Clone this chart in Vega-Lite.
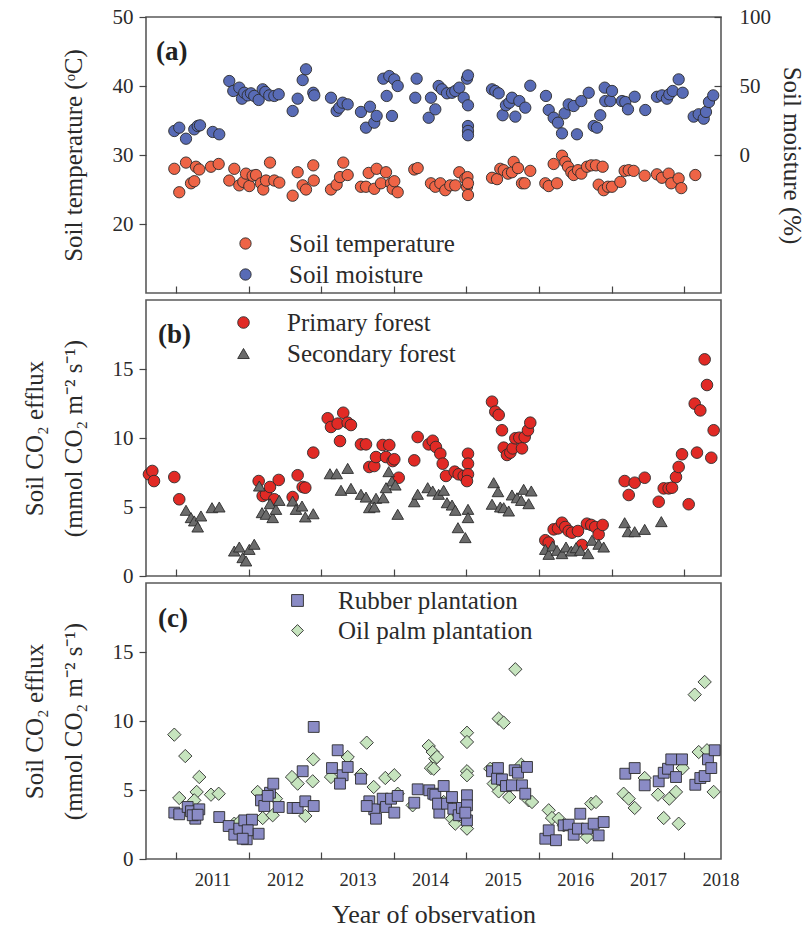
{
  "$schema": "https://vega.github.io/schema/vega-lite/v6.json",
  "background": "white",
  "padding": {"left": 21, "top": 5, "right": 0, "bottom": 0},
  "config": {
    "font": "Liberation Serif",
    "view": {"stroke": "#5a5a5a", "strokeWidth": 1.6},
    "axis": {"domain": false, "grid": false, "labelFont": "Liberation Serif", "titleFont": "Liberation Serif", "labelColor": "#2a2a2a", "titleColor": "#2a2a2a", "tickColor": "#444", "tickWidth": 1.2, "titleFontWeight": "normal", "labelFontSize": 21, "titleFontSize": 25},
    "legend": {"title": null, "orient": "none", "labelFontSize": 25, "labelFont": "Liberation Serif", "labelColor": "#2a2a2a", "padding": 0, "labelLimit": 400, "symbolStrokeColor": "#2b2b2b", "symbolStrokeWidth": 0.9}
  },
  "datasets": {
    "temp": [
      {"t":2010.477,"v":28.0},{"t":2010.545,"v":24.6},{"t":2010.638,"v":28.9},{"t":2010.707,"v":25.9},{"t":2010.752,"v":26.2},{"t":2010.775,"v":28.3},{"t":2010.821,"v":27.9},{"t":2010.982,"v":28.3},{"t":2011.088,"v":28.7},{"t":2011.234,"v":26.3},{"t":2011.303,"v":28.0},{"t":2011.372,"v":25.6},{"t":2011.427,"v":26.1},{"t":2011.464,"v":27.3},{"t":2011.510,"v":25.5},{"t":2011.556,"v":27.0},{"t":2011.602,"v":27.1},{"t":2011.671,"v":25.9},{"t":2011.702,"v":25.0},{"t":2011.740,"v":26.3},{"t":2011.795,"v":28.9},{"t":2011.854,"v":26.3},{"t":2011.923,"v":26.0},{"t":2012.107,"v":24.1},{"t":2012.176,"v":27.5},{"t":2012.245,"v":25.6},{"t":2012.291,"v":25.0},{"t":2012.391,"v":28.5},{"t":2012.398,"v":26.3},{"t":2012.635,"v":25.0},{"t":2012.713,"v":25.7},{"t":2012.759,"v":26.8},{"t":2012.804,"v":28.9},{"t":2012.865,"v":27.1},{"t":2013.048,"v":25.4},{"t":2013.117,"v":25.4},{"t":2013.154,"v":27.4},{"t":2013.231,"v":25.1},{"t":2013.264,"v":28.0},{"t":2013.324,"v":25.9},{"t":2013.393,"v":27.5},{"t":2013.462,"v":25.9},{"t":2013.485,"v":25.1},{"t":2013.507,"v":26.2},{"t":2013.554,"v":24.6},{"t":2013.782,"v":27.9},{"t":2013.829,"v":28.1},{"t":2014.012,"v":25.9},{"t":2014.072,"v":25.4},{"t":2014.141,"v":25.9},{"t":2014.209,"v":24.9},{"t":2014.278,"v":25.6},{"t":2014.347,"v":25.6},{"t":2014.402,"v":27.5},{"t":2014.485,"v":26.6},{"t":2014.515,"v":26.8},{"t":2014.508,"v":25.4},{"t":2014.522,"v":24.2},{"t":2014.522,"v":25.9},{"t":2014.853,"v":26.7},{"t":2014.922,"v":26.5},{"t":2014.967,"v":28.0},{"t":2015.014,"v":27.8},{"t":2015.073,"v":27.3},{"t":2015.128,"v":27.5},{"t":2015.151,"v":29.0},{"t":2015.211,"v":28.1},{"t":2015.266,"v":25.9},{"t":2015.303,"v":25.9},{"t":2015.380,"v":27.7},{"t":2015.587,"v":25.9},{"t":2015.634,"v":25.5},{"t":2015.702,"v":28.7},{"t":2015.748,"v":25.9},{"t":2015.817,"v":29.9},{"t":2015.862,"v":29.0},{"t":2015.900,"v":28.3},{"t":2015.945,"v":27.5},{"t":2015.978,"v":27.1},{"t":2016.037,"v":27.8},{"t":2016.083,"v":27.3},{"t":2016.161,"v":28.3},{"t":2016.220,"v":28.5},{"t":2016.285,"v":28.5},{"t":2016.377,"v":28.3},{"t":2016.322,"v":25.7},{"t":2016.391,"v":24.9},{"t":2016.450,"v":25.4},{"t":2016.506,"v":25.4},{"t":2016.620,"v":26.1},{"t":2016.680,"v":27.7},{"t":2016.736,"v":27.8},{"t":2016.804,"v":27.7},{"t":2016.956,"v":27.0},{"t":2017.125,"v":27.2},{"t":2017.194,"v":26.7},{"t":2017.286,"v":27.3},{"t":2017.322,"v":25.9},{"t":2017.424,"v":26.6},{"t":2017.460,"v":25.2},{"t":2017.653,"v":27.1}
    ],
    "moist": [
      {"t":2010.477,"v":17.4},{"t":2010.545,"v":19.8},{"t":2010.638,"v":11.8},{"t":2010.752,"v":18.6},{"t":2010.799,"v":21.0},{"t":2010.831,"v":21.5},{"t":2011.006,"v":16.7},{"t":2011.096,"v":15.0},{"t":2011.234,"v":53.6},{"t":2011.289,"v":46.4},{"t":2011.372,"v":48.8},{"t":2011.409,"v":40.8},{"t":2011.441,"v":45.1},{"t":2011.488,"v":43.2},{"t":2011.533,"v":44.7},{"t":2011.578,"v":42.8},{"t":2011.639,"v":39.9},{"t":2011.694,"v":47.6},{"t":2011.730,"v":45.7},{"t":2011.785,"v":43.2},{"t":2011.854,"v":42.8},{"t":2011.915,"v":44.0},{"t":2012.107,"v":31.9},{"t":2012.176,"v":40.8},{"t":2012.245,"v":54.3},{"t":2012.291,"v":62.1},{"t":2012.391,"v":45.1},{"t":2012.405,"v":43.2},{"t":2012.635,"v":41.5},{"t":2012.713,"v":31.9},{"t":2012.749,"v":34.3},{"t":2012.796,"v":37.9},{"t":2012.865,"v":36.7},{"t":2013.048,"v":31.2},{"t":2013.117,"v":19.8},{"t":2013.172,"v":35.0},{"t":2013.231,"v":23.4},{"t":2013.264,"v":28.3},{"t":2013.355,"v":55.3},{"t":2013.402,"v":42.8},{"t":2013.438,"v":57.2},{"t":2013.475,"v":28.3},{"t":2013.507,"v":54.8},{"t":2013.554,"v":50.0},{"t":2013.796,"v":41.5},{"t":2013.815,"v":55.3},{"t":2013.981,"v":27.0},{"t":2014.012,"v":41.5},{"t":2014.072,"v":33.1},{"t":2014.118,"v":50.0},{"t":2014.164,"v":47.6},{"t":2014.233,"v":44.7},{"t":2014.302,"v":45.1},{"t":2014.347,"v":46.4},{"t":2014.402,"v":48.8},{"t":2014.463,"v":41.5},{"t":2014.508,"v":55.3},{"t":2014.522,"v":57.7},{"t":2014.522,"v":36.0},{"t":2014.522,"v":21.0},{"t":2014.522,"v":17.4},{"t":2014.522,"v":14.3},{"t":2014.853,"v":47.6},{"t":2014.898,"v":46.4},{"t":2014.945,"v":44.7},{"t":2015.000,"v":28.8},{"t":2015.045,"v":36.0},{"t":2015.091,"v":37.9},{"t":2015.128,"v":41.5},{"t":2015.174,"v":27.8},{"t":2015.229,"v":39.1},{"t":2015.311,"v":34.3},{"t":2015.380,"v":50.2},{"t":2015.596,"v":42.8},{"t":2015.634,"v":32.6},{"t":2015.702,"v":27.0},{"t":2015.762,"v":23.4},{"t":2015.817,"v":15.7},{"t":2015.854,"v":30.2},{"t":2015.909,"v":36.7},{"t":2015.978,"v":35.5},{"t":2016.023,"v":15.0},{"t":2016.083,"v":39.1},{"t":2016.185,"v":45.1},{"t":2016.253,"v":21.0},{"t":2016.299,"v":19.8},{"t":2016.344,"v":28.8},{"t":2016.405,"v":48.8},{"t":2016.413,"v":39.1},{"t":2016.482,"v":39.1},{"t":2016.506,"v":46.4},{"t":2016.643,"v":39.1},{"t":2016.689,"v":38.4},{"t":2016.726,"v":33.1},{"t":2016.818,"v":42.2},{"t":2016.964,"v":32.6},{"t":2017.125,"v":42.2},{"t":2017.194,"v":43.2},{"t":2017.263,"v":40.8},{"t":2017.295,"v":44.0},{"t":2017.342,"v":46.4},{"t":2017.424,"v":54.8},{"t":2017.479,"v":45.1},{"t":2017.631,"v":27.8},{"t":2017.700,"v":29.5},{"t":2017.769,"v":26.3},{"t":2017.800,"v":31.2},{"t":2017.841,"v":38.4},{"t":2017.900,"v":43.2}
    ],
    "forest": [
      {"s":"Primary forest","t":2010.128,"v":7.37},{"s":"Primary forest","t":2010.174,"v":7.61},{"s":"Primary forest","t":2010.197,"v":6.88},{"s":"Primary forest","t":2010.477,"v":7.17},{"s":"Primary forest","t":2010.545,"v":5.56},{"s":"Primary forest","t":2011.639,"v":6.88},{"s":"Primary forest","t":2011.694,"v":5.80},{"s":"Primary forest","t":2011.740,"v":5.92},{"s":"Primary forest","t":2011.795,"v":6.45},{"s":"Primary forest","t":2011.854,"v":5.56},{"s":"Primary forest","t":2011.915,"v":6.96},{"s":"Primary forest","t":2012.107,"v":5.72},{"s":"Primary forest","t":2012.176,"v":7.30},{"s":"Primary forest","t":2012.245,"v":6.45},{"s":"Primary forest","t":2012.281,"v":6.40},{"s":"Primary forest","t":2012.391,"v":8.94},{"s":"Primary forest","t":2012.590,"v":11.43},{"s":"Primary forest","t":2012.635,"v":10.80},{"s":"Primary forest","t":2012.727,"v":11.04},{"s":"Primary forest","t":2012.804,"v":11.83},{"s":"Primary forest","t":2012.865,"v":11.11},{"s":"Primary forest","t":2012.910,"v":10.94},{"s":"Primary forest","t":2012.759,"v":9.78},{"s":"Primary forest","t":2013.048,"v":9.54},{"s":"Primary forest","t":2013.117,"v":9.54},{"s":"Primary forest","t":2013.163,"v":7.90},{"s":"Primary forest","t":2013.231,"v":7.97},{"s":"Primary forest","t":2013.255,"v":8.62},{"s":"Primary forest","t":2013.347,"v":9.49},{"s":"Primary forest","t":2013.438,"v":9.49},{"s":"Primary forest","t":2013.393,"v":8.62},{"s":"Primary forest","t":2013.485,"v":8.33},{"s":"Primary forest","t":2013.507,"v":8.46},{"s":"Primary forest","t":2013.568,"v":7.12},{"s":"Primary forest","t":2013.782,"v":8.38},{"s":"Primary forest","t":2013.829,"v":10.07},{"s":"Primary forest","t":2013.981,"v":9.54},{"s":"Primary forest","t":2014.036,"v":9.80},{"s":"Primary forest","t":2014.080,"v":9.35},{"s":"Primary forest","t":2014.141,"v":8.86},{"s":"Primary forest","t":2014.174,"v":8.14},{"s":"Primary forest","t":2014.219,"v":7.25},{"s":"Primary forest","t":2014.339,"v":7.56},{"s":"Primary forest","t":2014.394,"v":7.37},{"s":"Primary forest","t":2014.463,"v":7.25},{"s":"Primary forest","t":2014.522,"v":8.86},{"s":"Primary forest","t":2014.522,"v":8.14},{"s":"Primary forest","t":2014.522,"v":7.37},{"s":"Primary forest","t":2014.508,"v":6.88},{"s":"Primary forest","t":2014.853,"v":12.63},{"s":"Primary forest","t":2014.898,"v":11.91},{"s":"Primary forest","t":2014.945,"v":11.67},{"s":"Primary forest","t":2014.990,"v":10.56},{"s":"Primary forest","t":2015.014,"v":9.30},{"s":"Primary forest","t":2015.059,"v":8.77},{"s":"Primary forest","t":2015.105,"v":8.94},{"s":"Primary forest","t":2015.138,"v":9.25},{"s":"Primary forest","t":2015.174,"v":9.98},{"s":"Primary forest","t":2015.229,"v":10.02},{"s":"Primary forest","t":2015.266,"v":9.25},{"s":"Primary forest","t":2015.303,"v":10.07},{"s":"Primary forest","t":2015.348,"v":10.56},{"s":"Primary forest","t":2015.380,"v":11.11},{"s":"Primary forest","t":2015.587,"v":2.59},{"s":"Primary forest","t":2015.634,"v":2.42},{"s":"Primary forest","t":2015.702,"v":3.38},{"s":"Primary forest","t":2015.762,"v":3.45},{"s":"Primary forest","t":2015.817,"v":3.86},{"s":"Primary forest","t":2015.862,"v":3.55},{"s":"Primary forest","t":2015.909,"v":3.26},{"s":"Primary forest","t":2015.955,"v":3.14},{"s":"Primary forest","t":2016.037,"v":3.26},{"s":"Primary forest","t":2016.092,"v":2.25},{"s":"Primary forest","t":2016.161,"v":3.79},{"s":"Primary forest","t":2016.220,"v":3.70},{"s":"Primary forest","t":2016.275,"v":3.55},{"s":"Primary forest","t":2016.322,"v":3.02},{"s":"Primary forest","t":2016.377,"v":3.70},{"s":"Primary forest","t":2016.680,"v":6.88},{"s":"Primary forest","t":2016.818,"v":6.76},{"s":"Primary forest","t":2016.956,"v":7.12},{"s":"Primary forest","t":2016.736,"v":5.87},{"s":"Primary forest","t":2017.149,"v":5.38},{"s":"Primary forest","t":2017.218,"v":6.35},{"s":"Primary forest","t":2017.286,"v":6.35},{"s":"Primary forest","t":2017.332,"v":6.40},{"s":"Primary forest","t":2017.387,"v":7.17},{"s":"Primary forest","t":2017.424,"v":7.90},{"s":"Primary forest","t":2017.470,"v":8.82},{"s":"Primary forest","t":2017.562,"v":5.20},{"s":"Primary forest","t":2017.645,"v":12.49},{"s":"Primary forest","t":2017.722,"v":12.00},{"s":"Primary forest","t":2017.676,"v":8.94},{"s":"Primary forest","t":2017.782,"v":15.70},{"s":"Primary forest","t":2017.814,"v":13.84},{"s":"Primary forest","t":2017.873,"v":8.57},{"s":"Primary forest","t":2017.906,"v":10.56},
      {"s":"Secondary forest","t":2010.638,"v":4.76},{"s":"Secondary forest","t":2010.707,"v":4.23},{"s":"Secondary forest","t":2010.752,"v":3.99},{"s":"Secondary forest","t":2010.799,"v":3.55},{"s":"Secondary forest","t":2010.844,"v":4.35},{"s":"Secondary forest","t":2010.996,"v":4.95},{"s":"Secondary forest","t":2011.096,"v":5.00},{"s":"Secondary forest","t":2011.303,"v":1.81},{"s":"Secondary forest","t":2011.372,"v":2.10},{"s":"Secondary forest","t":2011.419,"v":1.33},{"s":"Secondary forest","t":2011.464,"v":1.09},{"s":"Secondary forest","t":2011.510,"v":1.93},{"s":"Secondary forest","t":2011.578,"v":2.30},{"s":"Secondary forest","t":2011.647,"v":6.52},{"s":"Secondary forest","t":2011.685,"v":4.59},{"s":"Secondary forest","t":2011.740,"v":4.47},{"s":"Secondary forest","t":2011.795,"v":5.24},{"s":"Secondary forest","t":2011.832,"v":4.23},{"s":"Secondary forest","t":2011.877,"v":4.83},{"s":"Secondary forest","t":2011.923,"v":5.48},{"s":"Secondary forest","t":2012.107,"v":5.43},{"s":"Secondary forest","t":2012.153,"v":4.83},{"s":"Secondary forest","t":2012.236,"v":5.07},{"s":"Secondary forest","t":2012.281,"v":4.28},{"s":"Secondary forest","t":2012.391,"v":4.51},{"s":"Secondary forest","t":2012.621,"v":7.41},{"s":"Secondary forest","t":2012.713,"v":7.41},{"s":"Secondary forest","t":2012.865,"v":7.80},{"s":"Secondary forest","t":2012.773,"v":6.21},{"s":"Secondary forest","t":2012.910,"v":6.35},{"s":"Secondary forest","t":2013.048,"v":5.92},{"s":"Secondary forest","t":2013.117,"v":5.72},{"s":"Secondary forest","t":2013.163,"v":4.95},{"s":"Secondary forest","t":2013.255,"v":5.63},{"s":"Secondary forest","t":2013.355,"v":5.67},{"s":"Secondary forest","t":2013.231,"v":5.00},{"s":"Secondary forest","t":2013.430,"v":7.56},{"s":"Secondary forest","t":2013.475,"v":6.88},{"s":"Secondary forest","t":2013.521,"v":6.59},{"s":"Secondary forest","t":2013.393,"v":6.40},{"s":"Secondary forest","t":2013.554,"v":4.47},{"s":"Secondary forest","t":2013.782,"v":5.38},{"s":"Secondary forest","t":2013.829,"v":5.92},{"s":"Secondary forest","t":2013.967,"v":6.40},{"s":"Secondary forest","t":2014.036,"v":6.16},{"s":"Secondary forest","t":2014.118,"v":5.92},{"s":"Secondary forest","t":2014.187,"v":6.21},{"s":"Secondary forest","t":2014.233,"v":5.31},{"s":"Secondary forest","t":2014.302,"v":5.14},{"s":"Secondary forest","t":2014.347,"v":4.76},{"s":"Secondary forest","t":2014.384,"v":3.50},{"s":"Secondary forest","t":2014.485,"v":2.78},{"s":"Secondary forest","t":2014.522,"v":4.83},{"s":"Secondary forest","t":2014.522,"v":4.23},{"s":"Secondary forest","t":2014.876,"v":6.76},{"s":"Secondary forest","t":2014.935,"v":6.11},{"s":"Secondary forest","t":2014.853,"v":5.20},{"s":"Secondary forest","t":2014.967,"v":5.00},{"s":"Secondary forest","t":2015.014,"v":4.95},{"s":"Secondary forest","t":2015.083,"v":4.71},{"s":"Secondary forest","t":2015.128,"v":5.87},{"s":"Secondary forest","t":2015.197,"v":5.67},{"s":"Secondary forest","t":2015.256,"v":5.48},{"s":"Secondary forest","t":2015.289,"v":6.28},{"s":"Secondary forest","t":2015.358,"v":5.24},{"s":"Secondary forest","t":2015.394,"v":6.16},{"s":"Secondary forest","t":2015.587,"v":1.93},{"s":"Secondary forest","t":2015.634,"v":1.57},{"s":"Secondary forest","t":2015.689,"v":2.17},{"s":"Secondary forest","t":2015.748,"v":1.86},{"s":"Secondary forest","t":2015.817,"v":1.62},{"s":"Secondary forest","t":2015.872,"v":2.10},{"s":"Secondary forest","t":2015.945,"v":1.81},{"s":"Secondary forest","t":2016.010,"v":2.05},{"s":"Secondary forest","t":2016.069,"v":1.86},{"s":"Secondary forest","t":2016.175,"v":1.62},{"s":"Secondary forest","t":2016.230,"v":2.59},{"s":"Secondary forest","t":2016.322,"v":2.30},{"s":"Secondary forest","t":2016.391,"v":2.10},{"s":"Secondary forest","t":2016.680,"v":3.86},{"s":"Secondary forest","t":2016.726,"v":3.21},{"s":"Secondary forest","t":2016.818,"v":3.21},{"s":"Secondary forest","t":2016.956,"v":3.38},{"s":"Secondary forest","t":2017.185,"v":3.94}
    ],
    "plant": [
      {"s":"Oil palm plantation","t":2010.477,"v":9.01},{"s":"Oil palm plantation","t":2010.628,"v":7.46},{"s":"Oil palm plantation","t":2010.545,"v":4.42},{"s":"Oil palm plantation","t":2010.821,"v":5.94},{"s":"Oil palm plantation","t":2010.785,"v":4.86},{"s":"Oil palm plantation","t":2010.982,"v":4.66},{"s":"Oil palm plantation","t":2011.088,"v":4.73},{"s":"Oil palm plantation","t":2010.752,"v":4.25},{"s":"Oil palm plantation","t":2011.303,"v":2.56},{"s":"Oil palm plantation","t":2011.372,"v":2.68},{"s":"Oil palm plantation","t":2011.625,"v":4.86},{"s":"Oil palm plantation","t":2011.694,"v":2.97},{"s":"Oil palm plantation","t":2011.832,"v":3.17},{"s":"Oil palm plantation","t":2011.877,"v":4.37},{"s":"Oil palm plantation","t":2012.098,"v":5.94},{"s":"Oil palm plantation","t":2012.176,"v":5.46},{"s":"Oil palm plantation","t":2012.281,"v":3.12},{"s":"Oil palm plantation","t":2012.391,"v":7.22},{"s":"Oil palm plantation","t":2012.383,"v":5.63},{"s":"Oil palm plantation","t":2012.635,"v":5.94},{"s":"Oil palm plantation","t":2012.865,"v":7.39},{"s":"Oil palm plantation","t":2013.048,"v":6.11},{"s":"Oil palm plantation","t":2013.127,"v":8.43},{"s":"Oil palm plantation","t":2013.223,"v":5.22},{"s":"Oil palm plantation","t":2013.383,"v":5.87},{"s":"Oil palm plantation","t":2013.507,"v":6.07},{"s":"Oil palm plantation","t":2013.554,"v":4.73},{"s":"Oil palm plantation","t":2013.760,"v":3.89},{"s":"Oil palm plantation","t":2013.981,"v":8.19},{"s":"Oil palm plantation","t":2014.036,"v":7.75},{"s":"Oil palm plantation","t":2014.072,"v":7.27},{"s":"Oil palm plantation","t":2014.012,"v":6.59},{"s":"Oil palm plantation","t":2014.095,"v":7.39},{"s":"Oil palm plantation","t":2014.050,"v":6.54},{"s":"Oil palm plantation","t":2014.508,"v":9.15},{"s":"Oil palm plantation","t":2014.508,"v":8.48},{"s":"Oil palm plantation","t":2014.508,"v":6.36},{"s":"Oil palm plantation","t":2014.508,"v":6.07},{"s":"Oil palm plantation","t":2014.508,"v":2.20},{"s":"Oil palm plantation","t":2014.302,"v":2.92},{"s":"Oil palm plantation","t":2014.347,"v":2.56},{"s":"Oil palm plantation","t":2014.394,"v":3.17},{"s":"Oil palm plantation","t":2014.187,"v":4.13},{"s":"Oil palm plantation","t":2014.945,"v":10.17},{"s":"Oil palm plantation","t":2015.014,"v":9.88},{"s":"Oil palm plantation","t":2015.174,"v":13.75},{"s":"Oil palm plantation","t":2014.829,"v":6.54},{"s":"Oil palm plantation","t":2014.876,"v":5.46},{"s":"Oil palm plantation","t":2014.945,"v":4.90},{"s":"Oil palm plantation","t":2015.091,"v":4.49},{"s":"Oil palm plantation","t":2015.256,"v":6.83},{"s":"Oil palm plantation","t":2015.358,"v":4.25},{"s":"Oil palm plantation","t":2015.404,"v":4.13},{"s":"Oil palm plantation","t":2015.634,"v":3.53},{"s":"Oil palm plantation","t":2015.679,"v":2.97},{"s":"Oil palm plantation","t":2015.771,"v":2.92},{"s":"Oil palm plantation","t":2015.840,"v":2.44},{"s":"Oil palm plantation","t":2016.161,"v":1.59},{"s":"Oil palm plantation","t":2016.220,"v":4.01},{"s":"Oil palm plantation","t":2016.285,"v":4.13},{"s":"Oil palm plantation","t":2016.666,"v":4.73},{"s":"Oil palm plantation","t":2016.736,"v":4.37},{"s":"Oil palm plantation","t":2016.818,"v":3.70},{"s":"Oil palm plantation","t":2016.956,"v":5.87},{"s":"Oil palm plantation","t":2017.139,"v":4.66},{"s":"Oil palm plantation","t":2017.218,"v":2.97},{"s":"Oil palm plantation","t":2017.295,"v":4.37},{"s":"Oil palm plantation","t":2017.387,"v":4.86},{"s":"Oil palm plantation","t":2017.424,"v":2.56},{"s":"Oil palm plantation","t":2017.700,"v":7.75},{"s":"Oil palm plantation","t":2017.645,"v":11.91},{"s":"Oil palm plantation","t":2017.782,"v":12.83},{"s":"Oil palm plantation","t":2017.906,"v":4.86},{"s":"Oil palm plantation","t":2017.814,"v":7.88},{"s":"Oil palm plantation","t":2017.479,"v":6.59},
      {"s":"Rubber plantation","t":2010.477,"v":3.36},{"s":"Rubber plantation","t":2010.545,"v":3.24},{"s":"Rubber plantation","t":2010.661,"v":3.77},{"s":"Rubber plantation","t":2010.707,"v":3.46},{"s":"Rubber plantation","t":2010.766,"v":2.92},{"s":"Rubber plantation","t":2010.821,"v":3.60},{"s":"Rubber plantation","t":2010.730,"v":3.17},{"s":"Rubber plantation","t":2010.799,"v":3.21},{"s":"Rubber plantation","t":2011.096,"v":3.04},{"s":"Rubber plantation","t":2011.226,"v":2.39},{"s":"Rubber plantation","t":2011.303,"v":1.76},{"s":"Rubber plantation","t":2011.372,"v":2.20},{"s":"Rubber plantation","t":2011.441,"v":2.80},{"s":"Rubber plantation","t":2011.474,"v":1.43},{"s":"Rubber plantation","t":2011.547,"v":2.85},{"s":"Rubber plantation","t":2011.488,"v":2.08},{"s":"Rubber plantation","t":2011.639,"v":1.83},{"s":"Rubber plantation","t":2011.419,"v":1.47},{"s":"Rubber plantation","t":2011.671,"v":4.25},{"s":"Rubber plantation","t":2011.716,"v":3.84},{"s":"Rubber plantation","t":2011.795,"v":4.80},{"s":"Rubber plantation","t":2011.840,"v":5.46},{"s":"Rubber plantation","t":2011.915,"v":3.77},{"s":"Rubber plantation","t":2011.763,"v":4.57},{"s":"Rubber plantation","t":2012.107,"v":3.70},{"s":"Rubber plantation","t":2012.176,"v":3.70},{"s":"Rubber plantation","t":2012.245,"v":6.36},{"s":"Rubber plantation","t":2012.281,"v":4.18},{"s":"Rubber plantation","t":2012.397,"v":3.84},{"s":"Rubber plantation","t":2012.397,"v":9.57},{"s":"Rubber plantation","t":2012.649,"v":6.59},{"s":"Rubber plantation","t":2012.727,"v":7.88},{"s":"Rubber plantation","t":2012.796,"v":6.07},{"s":"Rubber plantation","t":2012.865,"v":6.67},{"s":"Rubber plantation","t":2012.759,"v":5.46},{"s":"Rubber plantation","t":2013.048,"v":5.82},{"s":"Rubber plantation","t":2013.163,"v":4.18},{"s":"Rubber plantation","t":2013.231,"v":3.60},{"s":"Rubber plantation","t":2013.255,"v":2.92},{"s":"Rubber plantation","t":2013.347,"v":4.37},{"s":"Rubber plantation","t":2013.393,"v":3.77},{"s":"Rubber plantation","t":2013.462,"v":4.37},{"s":"Rubber plantation","t":2013.507,"v":3.36},{"s":"Rubber plantation","t":2013.554,"v":4.57},{"s":"Rubber plantation","t":2013.127,"v":3.84},{"s":"Rubber plantation","t":2013.782,"v":4.08},{"s":"Rubber plantation","t":2013.829,"v":5.05},{"s":"Rubber plantation","t":2013.989,"v":4.98},{"s":"Rubber plantation","t":2014.044,"v":4.73},{"s":"Rubber plantation","t":2014.072,"v":4.66},{"s":"Rubber plantation","t":2014.187,"v":5.29},{"s":"Rubber plantation","t":2014.127,"v":3.36},{"s":"Rubber plantation","t":2014.109,"v":4.01},{"s":"Rubber plantation","t":2014.233,"v":4.01},{"s":"Rubber plantation","t":2014.302,"v":4.49},{"s":"Rubber plantation","t":2014.320,"v":3.64},{"s":"Rubber plantation","t":2014.394,"v":3.17},{"s":"Rubber plantation","t":2014.439,"v":3.70},{"s":"Rubber plantation","t":2014.508,"v":4.62},{"s":"Rubber plantation","t":2014.508,"v":3.89},{"s":"Rubber plantation","t":2014.508,"v":2.80},{"s":"Rubber plantation","t":2014.485,"v":3.36},{"s":"Rubber plantation","t":2014.853,"v":6.36},{"s":"Rubber plantation","t":2014.935,"v":6.59},{"s":"Rubber plantation","t":2014.922,"v":5.82},{"s":"Rubber plantation","t":2014.990,"v":5.77},{"s":"Rubber plantation","t":2015.045,"v":5.29},{"s":"Rubber plantation","t":2015.128,"v":5.34},{"s":"Rubber plantation","t":2015.165,"v":6.43},{"s":"Rubber plantation","t":2015.211,"v":6.25},{"s":"Rubber plantation","t":2015.266,"v":5.34},{"s":"Rubber plantation","t":2015.335,"v":6.67},{"s":"Rubber plantation","t":2015.311,"v":4.73},{"s":"Rubber plantation","t":2015.587,"v":1.47},{"s":"Rubber plantation","t":2015.634,"v":2.08},{"s":"Rubber plantation","t":2015.734,"v":1.36},{"s":"Rubber plantation","t":2015.840,"v":2.44},{"s":"Rubber plantation","t":2015.909,"v":2.49},{"s":"Rubber plantation","t":2015.978,"v":1.76},{"s":"Rubber plantation","t":2016.037,"v":2.20},{"s":"Rubber plantation","t":2016.069,"v":3.28},{"s":"Rubber plantation","t":2016.161,"v":2.20},{"s":"Rubber plantation","t":2016.253,"v":2.56},{"s":"Rubber plantation","t":2016.322,"v":1.71},{"s":"Rubber plantation","t":2016.391,"v":2.68},{"s":"Rubber plantation","t":2016.689,"v":6.18},{"s":"Rubber plantation","t":2016.818,"v":6.59},{"s":"Rubber plantation","t":2016.956,"v":5.34},{"s":"Rubber plantation","t":2017.149,"v":5.63},{"s":"Rubber plantation","t":2017.218,"v":6.25},{"s":"Rubber plantation","t":2017.277,"v":6.54},{"s":"Rubber plantation","t":2017.322,"v":7.22},{"s":"Rubber plantation","t":2017.387,"v":5.94},{"s":"Rubber plantation","t":2017.470,"v":7.22},{"s":"Rubber plantation","t":2017.653,"v":5.38},{"s":"Rubber plantation","t":2017.722,"v":5.87},{"s":"Rubber plantation","t":2017.782,"v":6.01},{"s":"Rubber plantation","t":2017.827,"v":7.22},{"s":"Rubber plantation","t":2017.873,"v":6.59},{"s":"Rubber plantation","t":2017.920,"v":7.88}
    ]
  },
  "spacing": 7,
  "bounds": "flush",
  "resolve": {"scale": {"fill": "independent", "shape": "independent", "stroke": "independent"}, "legend": {"fill": "independent", "shape": "independent", "stroke": "independent"}},
  "vconcat": [
    {
      "width": 575, "height": 276,
      "layer": [
        {
          "layer": [
            {
              "data": {"name": "temp"},
              "mark": {"type": "point", "filled": true, "shape": "circle", "size": 128, "opacity": 1, "stroke": "#2b2b2b", "strokeWidth": 0.9},
              "encoding": {
                "x": {"field": "t", "type": "quantitative", "scale": {"domain": [2010.087, 2018.007], "nice": false, "zero": false},
                      "axis": {"values": [2010.5, 2011.5, 2012.5, 2013.5, 2014.5, 2015.5, 2016.5, 2017.5], "labels": false, "title": null, "tickSize": -7}},
                "y": {"field": "v", "type": "quantitative", "scale": {"domain": [10, 50], "nice": false, "zero": false},
                      "axis": {"values": [20, 30, 40, 50], "title": "Soil temperature (ᵒC)", "tickSize": 7, "labelPadding": 6, "titlePadding": 26}},
                "fill": {"datum": "Soil temperature", "type": "nominal",
                         "scale": {"domain": ["Soil temperature", "Soil moisture"], "range": ["#EE6446", "#586BB6"]},
                         "legend": {"orient": "none", "legendX": 87, "legendY": 214, "symbolSize": 128, "symbolType": "circle", "labelOffset": 31, "rowPadding": 5}}
              }
            },
            {
              "data": {"values": [{}]},
              "mark": {"type": "text", "text": "(a)", "font": "Liberation Serif", "fontWeight": "bold", "fontSize": 27, "align": "left", "baseline": "middle", "color": "#222"},
              "encoding": {"x": {"datum": 2010.225, "type": "quantitative"}, "y": {"datum": 45.0, "type": "quantitative"}}
            }
          ]
        },
        {
          "data": {"name": "moist"},
          "mark": {"type": "point", "filled": true, "shape": "circle", "size": 128, "opacity": 1, "stroke": "#2b2b2b", "strokeWidth": 0.9},
          "encoding": {
            "x": {"field": "t", "type": "quantitative"},
            "y": {"field": "v", "type": "quantitative", "scale": {"domain": [-100, 100], "nice": false, "zero": false},
                  "axis": {"orient": "right", "values": [0, 50, 100], "title": "Soil moisture (%)", "tickSize": -7, "labelPadding": 25, "titlePadding": 8}},
            "fill": {"datum": "Soil moisture", "type": "nominal"}
          }
        }
      ],
      "resolve": {"scale": {"y": "independent"}}
    },
    {
      "width": 575, "height": 276,
      "layer": [
        {
          "data": {"name": "forest"},
          "mark": {"type": "point", "filled": true, "size": 135, "opacity": 1, "strokeWidth": 0.9},
          "encoding": {
            "x": {"field": "t", "type": "quantitative", "scale": {"domain": [2010.087, 2018.007], "nice": false, "zero": false},
                  "axis": {"values": [2010.5, 2011.5, 2012.5, 2013.5, 2014.5, 2015.5, 2016.5, 2017.5], "labels": false, "title": null, "tickSize": -7}},
            "y": {"field": "v", "type": "quantitative", "scale": {"domain": [0, 20], "nice": false},
                  "axis": {"values": [0, 5, 10, 15], "title": ["Soil CO₂ efflux", "(mmol CO₂ m⁻² s⁻¹)"], "titleLineHeight": 39, "tickSize": 7, "labelPadding": 6, "titlePadding": 26}},
            "fill": {"field": "s", "type": "nominal", "scale": {"domain": ["Primary forest", "Secondary forest"], "range": ["#E12A25", "#6B6B6B"]},
                     "legend": {"orient": "none", "legendX": 85, "legendY": 10, "symbolSize": 135, "labelOffset": 31, "rowPadding": 5}},
            "shape": {"field": "s", "type": "nominal", "scale": {"domain": ["Primary forest", "Secondary forest"], "range": ["circle", "triangle-up"]},
                      "legend": {"orient": "none", "legendX": 85, "legendY": 10, "symbolSize": 135, "labelOffset": 31, "rowPadding": 5}},
            "stroke": {"field": "s", "type": "nominal", "scale": {"domain": ["Primary forest", "Secondary forest"], "range": ["#2b2b2b", "#2b2b2b"]},
                       "legend": {"orient": "none", "legendX": 85, "legendY": 10, "symbolSize": 135, "labelOffset": 31, "rowPadding": 5}}
          }
        },
        {
          "data": {"values": [{}]},
          "mark": {"type": "text", "text": "(b)", "font": "Liberation Serif", "fontWeight": "bold", "fontSize": 27, "align": "left", "baseline": "middle", "color": "#222"},
          "encoding": {"x": {"datum": 2010.252, "type": "quantitative"}, "y": {"datum": 17.5, "type": "quantitative"}}
        }
      ]
    },
    {
      "width": 575, "height": 276,
      "layer": [
        {
          "data": {"name": "plant"},
          "transform": [{"filter": "datum.s === 'Oil palm plantation'"}],
          "mark": {"type": "point", "filled": true, "size": 177, "opacity": 1, "strokeWidth": 0.9},
          "encoding": {
            "x": {"field": "t", "type": "quantitative", "scale": {"domain": [2010.087, 2018.007], "nice": false, "zero": false},
                  "axis": {"orient": "bottom", "values": [2010.5, 2011.5, 2012.5, 2013.5, 2014.5, 2015.5, 2016.5, 2017.5], "labels": false, "title": null, "tickSize": -7}},
            "y": {"field": "v", "type": "quantitative", "scale": {"domain": [0, 20], "nice": false},
                  "axis": {"values": [0, 5, 10, 15], "title": ["Soil CO₂ efflux", "(mmol CO₂ m⁻² s⁻¹)"], "titleLineHeight": 39, "tickSize": 7, "labelPadding": 6, "titlePadding": 26}},
            "fill": {"field": "s", "type": "nominal", "scale": {"domain": ["Rubber plantation", "Oil palm plantation"], "range": ["#8A8BC5", "#C6E4BE"]},
                     "legend": {"orient": "none", "legendX": 139, "legendY": 5, "symbolSize": 140, "labelOffset": 28, "rowPadding": 4}},
            "shape": {"field": "s", "type": "nominal", "scale": {"domain": ["Rubber plantation", "Oil palm plantation"], "range": ["square", "diamond"]},
                      "legend": {"orient": "none", "legendX": 139, "legendY": 5, "symbolSize": 140, "labelOffset": 28, "rowPadding": 4}},
            "stroke": {"field": "s", "type": "nominal", "scale": {"domain": ["Rubber plantation", "Oil palm plantation"], "range": ["#2b2b2b", "#2b2b2b"]},
                       "legend": {"orient": "none", "legendX": 139, "legendY": 5, "symbolSize": 140, "labelOffset": 28, "rowPadding": 4}}
          }
        },
        {
          "data": {"name": "plant"},
          "transform": [{"filter": "datum.s === 'Rubber plantation'"}],
          "mark": {"type": "point", "filled": true, "size": 118, "opacity": 1, "strokeWidth": 0.9},
          "encoding": {
            "x": {"field": "t", "type": "quantitative", "axis": null},
            "y": {"field": "v", "type": "quantitative"},
            "fill": {"field": "s", "type": "nominal",
                     "legend": {"orient": "none", "legendX": 139, "legendY": 5, "symbolSize": 140, "labelOffset": 28, "rowPadding": 4}},
            "shape": {"field": "s", "type": "nominal",
                      "legend": {"orient": "none", "legendX": 139, "legendY": 5, "symbolSize": 140, "labelOffset": 28, "rowPadding": 4}},
            "stroke": {"field": "s", "type": "nominal",
                       "legend": {"orient": "none", "legendX": 139, "legendY": 5, "symbolSize": 140, "labelOffset": 28, "rowPadding": 4}}
          }
        },
        {
          "data": {"values": [{}]},
          "mark": {"type": "text", "text": "(c)", "font": "Liberation Serif", "fontWeight": "bold", "fontSize": 27, "align": "left", "baseline": "middle", "color": "#222"},
          "encoding": {
            "x": {"datum": 2010.252, "type": "quantitative",
                  "axis": {"orient": "bottom", "values": [2011, 2012, 2013, 2014, 2015, 2016, 2017, 2018], "format": "d", "ticks": false, "labelPadding": 11, "labelFontSize": 18.5, "labelFlush": false, "labelOverlap": false, "labelBound": false, "title": "Year of observation", "titleFontSize": 26, "titlePadding": 13}},
            "y": {"datum": 17.4, "type": "quantitative"}
          }
        }
      ],
      "resolve": {"axis": {"x": "independent"}}
    }
  ]
}
